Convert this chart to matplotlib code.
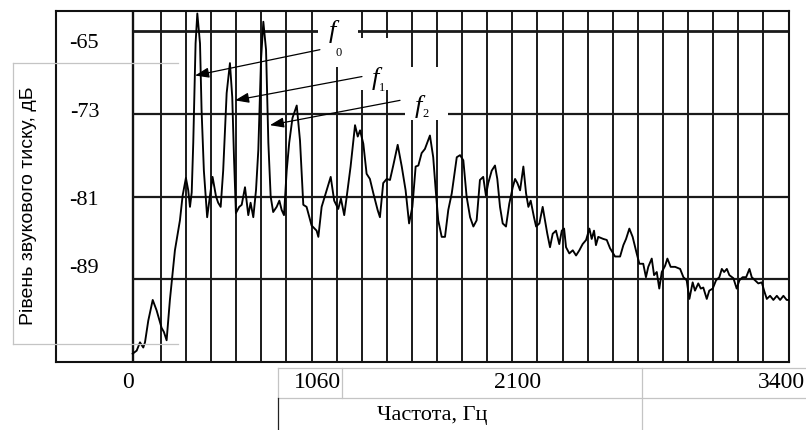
import numpy as np
import matplotlib
matplotlib.use('Agg')
import matplotlib.pyplot as plt
from matplotlib.patches import Rectangle
from matplotlib.lines import Line2D

plt.rcParams['font.family'] = ['Liberation Serif', 'DejaVu Serif']

# спектр: частота, Гц / рівень, дБ
freq = [0, 21, 38, 55, 64, 81, 104, 124, 150, 162, 176, 193, 219, 245, 259,
        276, 288, 297, 306, 314, 326, 335, 349, 357, 369, 386, 400, 414, 432,
        443, 456, 469, 487, 504, 516, 525, 535, 552, 565, 582, 599, 611, 625,
        639, 651, 665, 677, 691, 703, 715, 728, 746, 760, 772, 784, 798, 811,
        828, 850, 867, 884, 901, 927, 953, 962, 979, 1005, 1026, 1044, 1065,
        1079, 1096, 1109, 1129, 1152, 1166, 1178, 1195, 1212, 1229, 1247, 1269,
        1281, 1298, 1316, 1333, 1350, 1373, 1394, 1414, 1432, 1449, 1466, 1480,
        1497, 1514, 1540, 1557, 1570, 1583, 1601, 1618, 1635, 1653, 1679, 1696,
        1713, 1730, 1748, 1765, 1782, 1799, 1816, 1830, 1842, 1860, 1877, 1889,
        1903, 1917, 1934, 1951, 1969, 1981, 1993, 2007, 2024, 2038, 2050, 2062,
        2079, 2090, 2107, 2124, 2136, 2148, 2162, 2176, 2193, 2210, 2223, 2235,
        2245, 2262, 2280, 2297, 2314, 2331, 2349, 2366, 2378, 2390, 2400, 2412,
        2438, 2456, 2473, 2499, 2525, 2542, 2556, 2573, 2590, 2611, 2625, 2645,
        2659, 2671, 2689, 2701, 2715, 2728, 2741, 2758, 2770, 2787, 2810, 2836,
        2853, 2870, 2884, 2901, 2913, 2930, 2943, 2956, 2974, 2987, 3005, 3022,
        3039, 3052, 3064, 3078, 3091, 3112, 3129, 3143, 3160, 3178, 3195, 3207,
        3224, 3241, 3259, 3271, 3285, 3302, 3319, 3337, 3354, 3371, 3388, 3400]
level = [-96.2, -95.9, -95.1, -95.6, -95.1, -93.0, -91.0, -92.0, -93.7, -94.1,
         -94.9, -91.0, -86.2, -83.3, -80.9, -79.2, -80.4, -82.0, -80.6, -75.8,
         -66.2, -63.3, -66.2, -72.6, -78.5, -83.0, -81.0, -79.1, -81.0, -81.6,
         -82.0, -78.5, -71.0, -68.1, -71.4, -77.2, -82.6, -82.0, -81.8, -80.1,
         -82.8, -81.6, -83.0, -80.4, -76.5, -67.8, -64.1, -66.8, -75.8, -81.0,
         -82.5, -82.0, -81.4, -82.3, -82.8, -78.5, -75.8,
         -73.4, -72.2, -75.6, -81.8, -82.0, -83.8, -84.3, -84.9, -82.0, -80.4,
         -79.1, -81.4, -82.2, -81.2, -82.8, -81.0, -78.1, -74.1, -75.2, -74.6,
         -75.9, -78.8, -79.3, -80.7, -82.3, -83.0, -79.7, -79.3, -79.4, -78.0,
         -76.0, -78.1, -80.4, -83.6, -82.0, -78.1, -78.0, -76.8, -76.4, -75.1,
         -77.2, -80.4, -83.3, -84.9, -84.9, -82.3, -80.7, -77.2, -77.0, -77.5,
         -81.0, -83.0, -83.9, -83.3, -79.4, -79.1, -80.9, -79.7, -78.5, -78.0,
         -79.3, -82.0, -83.6, -83.9, -81.7, -80.1, -79.3, -79.7, -80.4, -78.1,
         -80.7, -82.0, -81.4, -83.0, -83.9, -83.6, -82.0, -83.3, -84.6, -85.9,
         -84.6, -84.3, -85.6, -84.3, -84.1, -85.9, -86.5, -86.2, -86.7, -86.2,
         -85.6, -85.2, -84.1, -85.1, -84.3, -85.7, -84.9, -85.1, -85.2, -86.0,
         -86.8, -86.8, -85.7, -85.1, -84.1, -84.9, -86.5, -87.5,
         -87.5, -88.8, -87.8, -87.0, -88.6, -88.3, -89.9, -88.3, -87.7, -87.0,
         -87.8, -87.8, -88.0, -88.8, -89.1, -90.9, -89.3, -90.1, -89.4, -89.9,
         -89.8, -90.9, -90.1, -89.9, -89.1, -88.8, -88.0, -88.3, -88.0, -88.6,
         -88.9, -89.9, -89.1, -88.8, -88.8, -88.0, -88.8, -89.1, -89.4, -89.3,
         -90.1, -90.9, -90.6, -91.0, -90.6, -91.0, -90.6, -91.0, -91.0]

y_ticks = [-65, -73, -81, -89]
y_labels = ['-65', '-73', '-81', '-89']
x_ticks = [0, 1060, 2100, 3400]
x_labels = ['0', '1060', '2100', '3400']

W, H = 806, 430


def fx(x):
    return x / W


def fy(y):
    return 1 - y / H


fig = plt.figure(figsize=(W / 100, H / 100), dpi=100)
ax = fig.add_axes([fx(56), fy(362), (789 - 56) / W, (362 - 11) / H])
ax.set_xlim(-397, 3400)
ax.set_ylim(-97.0, -63.06)
ax.set_xticks([])
ax.set_yticks([])
for s in ax.spines.values():
    s.set_linewidth(1.5)
    s.set_color('#111111')

# сітка
grid_x = np.linspace(147, 3267, 25)
ax.vlines(grid_x, -97.0, -63.06, color='#1a1a1a', lw=1.4, zorder=1)
ax.vlines([0], -97.0, -63.06, color='#111111', lw=1.7, zorder=1)
ax.hlines(y_ticks, 0, 3400, color='#1a1a1a', lw=[2.0, 1.6, 1.6, 1.6], zorder=1)

# білі поля під позначками
for x0, y0, w, h in [(960, -68.5, 205, 5.44), (1162, -70.7, 264, 5.0),
                     (1411, -73.6, 223, 5.1)]:
    ax.add_patch(Rectangle((x0, y0), w, h, facecolor='white',
                           edgecolor='none', zorder=2))

ax.plot(freq, level, color='black', lw=1.35, zorder=3)

# позначки f0, f1, f2
arrow = dict(arrowstyle='-|>,head_length=0.6,head_width=0.22',
             color='black', lw=0.9, shrinkA=0, shrinkB=0, mutation_scale=14)
ax.annotate('', xy=(323, -69.3), xytext=(970, -66.8), arrowprops=arrow, zorder=4)
ax.annotate('', xy=(530, -71.7), xytext=(1188, -69.4), arrowprops=arrow, zorder=4)
ax.annotate('', xy=(711, -74.1), xytext=(1385, -71.7), arrowprops=arrow, zorder=4)

for fxp, fyp, sxp, syp, sub in [(1033, -65.0, 1066, -67.1, '0'),
                                (1255, -69.6, 1290, -70.5, '1'),
                                (1478, -72.3, 1518, -73.0, '2')]:
    ax.text(fxp, fyp, 'f', fontsize=19, style='italic', ha='center',
            va='center', zorder=5)
    ax.text(sxp, syp, sub, fontsize=9, ha='center', va='center', zorder=5)

# підписи шкали Y
for v, lab, off in zip(y_ticks, y_labels, [-1.2, 0.1, -0.4, 1.0]):
    ax.text(-250, v + off, lab, fontsize=16, ha='center', va='center')

# підписи шкали X
tr = ax.get_xaxis_transform()
for v, lab, off in zip(x_ticks, x_labels, [-24, -103, -104, -41]):
    ax.text(v + off, -0.057, lab, fontsize=17, ha='center', va='center',
            transform=tr, clip_on=False)
ax.text(1553, -0.151, 'Частота, Гц', fontsize=16, ha='center', va='center',
        transform=tr, clip_on=False)

fig.text(fx(28.5), fy(206), 'Рівень звукового тиску, дБ', rotation=90,
         family=['Liberation Sans', 'DejaVu Sans'], fontsize=14,
         ha='center', va='center')

# тонкі сірі лінії рамок
light = '#c4c4c4'
for (x1, y1, x2, y2, c) in [(13, 63, 178, 63, light), (13, 344, 178, 344, light),
                            (13, 63, 13, 344, light),
                            (278, 368, 806, 368, light), (278, 398, 806, 398, light),
                            (278, 368, 278, 398, light), (278, 398, 278, 430, '#222222'),
                            (342, 368, 342, 398, light), (642, 368, 642, 430, light)]:
    fig.add_artist(Line2D([fx(x1), fx(x2)], [fy(y1), fy(y2)], color=c, lw=0.9,
                          transform=fig.transFigure))

fig.savefig('out.png', dpi=100)
plt.close(fig)
